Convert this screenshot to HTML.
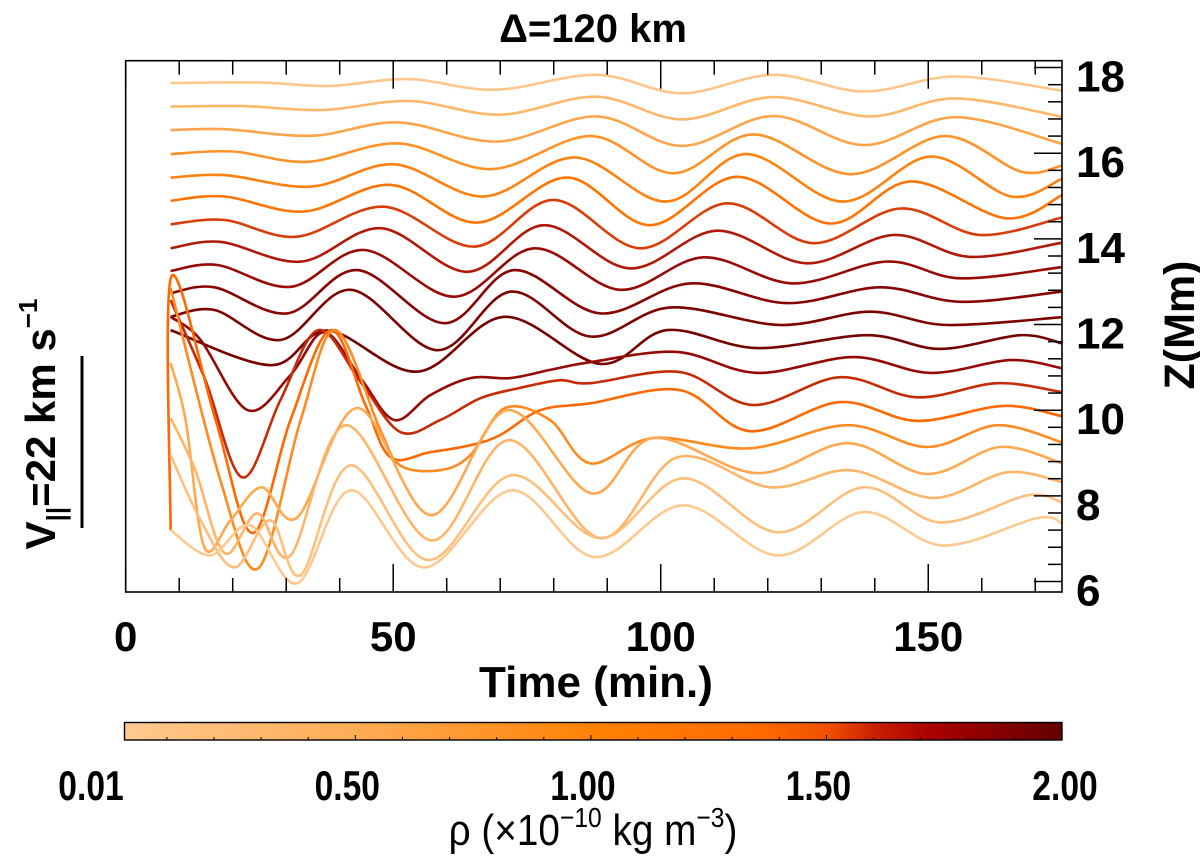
<!DOCTYPE html>
<html>
<head>
<meta charset="utf-8">
<style>
  html,body{margin:0;padding:0;background:#fff;}
  svg{display:block;}
  text{font-family:"Liberation Sans", sans-serif;fill:#000;}
</style>
</head>
<body>
<svg id="chart" width="1200" height="858" viewBox="0 0 1200 858" xmlns="http://www.w3.org/2000/svg">
  <text x="593" y="42" font-size="40" font-weight="bold" text-anchor="middle">Δ=120 km</text>
  <g id="curves"></g>
  <rect x="125.7" y="60.7" width="936.3" height="531.3" fill="none" stroke="#000" stroke-width="1.6"/>
  <g id="ticks"></g>
  <g id="xlabels"></g>
  <g id="ylabels"></g>
  <text x="596" y="697" font-size="44" font-weight="bold" text-anchor="middle">Time (min.)</text>
  <text transform="translate(1194,325) rotate(-90)" font-size="43" font-weight="bold" text-anchor="middle">Z(Mm)</text>
  <text transform="translate(55,424) rotate(-90)" font-size="42" font-weight="bold" text-anchor="middle">V<tspan font-size="26" dy="10">||</tspan><tspan dy="-10">=22 km s</tspan><tspan font-size="26" dy="-18">−1</tspan></text>
  <line x1="82" y1="356" x2="82" y2="528" stroke="#000" stroke-width="3"/>
  <defs>
    <linearGradient id="cmap" x1="0" y1="0" x2="1" y2="0">
      <stop offset="0" stop-color="#ffc98f"/>
      <stop offset="0.25" stop-color="#ffac55"/>
      <stop offset="0.5" stop-color="#ff8204"/>
      <stop offset="0.68" stop-color="#ff6a00"/>
      <stop offset="0.75" stop-color="#f05000"/>
      <stop offset="0.8" stop-color="#c82000"/>
      <stop offset="0.86" stop-color="#aa0000"/>
      <stop offset="1" stop-color="#620000"/>
    </linearGradient>
  </defs>
  <rect x="124.5" y="722.5" width="937.5" height="17.5" fill="url(#cmap)" stroke="#000" stroke-width="1.4"/>
  <g id="cbticks"></g>
  <g id="cblabels"></g>
  <text x="593" y="845" font-size="44" text-anchor="middle" transform="translate(593,0) scale(0.88,1) translate(-593,0)">ρ (×10<tspan font-size="28" dy="-18">−10</tspan><tspan dy="18"> kg m</tspan><tspan font-size="28" dy="-18">−3</tspan><tspan dy="18">)</tspan></text>
</svg>
<script>
// ---- axis data ----
const xTickMajor = [0, 50, 100, 150];
const xTickLabels = ["0", "50", "100", "150"];
const yTickMajor = [6, 8, 10, 12, 14, 16, 18];
const yTickLabels = ["6", "8", "10", "12", "14", "16", "18"];
const cbTickValues = [0.5, 1.0, 1.5];
const cbTickLabels = ["0.01", "0.50", "1.00", "1.50", "2.00"];
const cbLabelValues = [0.01, 0.5, 1.0, 1.5, 2.0];

// ---- series data: time (min) and height Z (Mm) ----
const t01 = [8.4,25,38,53,69,88,104,121,138,155,175];
const z01 = [17.64,17.65,17.57,17.73,17.48,17.83,17.40,17.83,17.44,17.79,17.46];
const t02 = [8.4,22,37,53,70,88,104,121,139,155,175];
const z02 = [17.09,17.10,17.01,17.22,16.90,17.32,16.79,17.31,16.86,17.28,16.85];
const t03 = [8.4,18.5,35,51,69.5,88,104,121,138,155,175];
const z03 = [16.54,16.56,16.41,16.72,16.27,16.86,16.17,16.87,16.19,16.84,16.22];
const t04 = [8.4,20,34,51,68.5,87,102.4,117.4,135.5,153,167.3,175];
const z04 = [15.98,16.04,15.80,16.23,15.63,16.40,15.53,16.44,15.51,16.40,15.57,15.71];
const t05 = [8.4,18.5,34.7,50.2,67,84,101,116,134,150.4,165.5,175];
const z05 = [15.43,15.49,15.22,15.74,14.99,15.90,14.87,15.98,14.87,15.92,14.99,15.40];
const t06 = [8.4,18.5,33.4,49.6,65.8,82.5,98,114.3,131.7,146.7,164.5,175];
const z06 = [14.89,14.99,14.64,15.26,14.38,15.43,14.32,15.45,14.36,15.34,14.48,15.02];
const t07 = [8.4,18.5,32,48.3,65.2,80,96.2,112.4,128.5,144.8,159.7,175];
const z07 = [14.34,14.44,14.05,14.75,13.82,14.91,13.78,14.83,13.90,14.71,14.09,14.50];
const t08 = [8.4,17.8,32.8,47.7,63.9,78.2,94.3,110.5,127.3,143.5,157.8,175];
const z08 = [13.78,13.93,13.47,14.25,13.23,14.32,13.31,14.19,13.43,14.09,13.58,13.91];
const t09 = [8.4,17.1,30.9,44.6,61.4,76.4,92.4,108,124.7,142.3,156,175];
const z09 = [13.25,13.39,12.88,13.74,12.65,13.78,12.81,13.57,12.96,13.47,13.08,13.34];
const t10 = [8.4,16.6,30.2,43.3,59.6,72.6,88.7,105.5,123.6,141,156,175];
const z10 = [12.73,12.87,12.26,13.27,12.03,13.27,12.26,12.96,12.50,12.87,12.53,12.77];
const t11 = [8.4,16.6,29,42.1,58.3,72,86.8,101.8,122.3,139.1,153.5,175];
const z11 = [12.18,12.34,11.64,12.81,11.40,12.77,11.72,12.40,11.99,12.30,11.99,12.17];
const t12 = [8.4,27.2,37.8,54.6,70.8,88.7,101.2,118,138.6,152.2,167.2,175];
const z12 = [11.87,11.05,11.86,10.90,12.18,11.08,11.87,11.45,11.75,11.43,11.75,11.56];
const t13 = [8.4,14.0,22.8,30.8,37.1,43.9,50.2,56.9,64.4,71.9,79.3,86.8,103.1,118.0,136.0,150.4,165.3,175];
const z13 = [12.18,11.64,10.00,10.82,11.82,10.75,9.77,10.35,10.75,10.75,10.94,11.12,11.36,10.87,11.24,10.87,11.17,10.98];
const t14 = [8.4,14.9,21.8,28.9,36.0,43.9,51.3,58.8,66.3,73.7,81.2,86.8,103.6,117.3,133.5,147.9,162.9,175];
const z14 = [12.57,10.70,8.43,10.23,11.87,10.66,9.49,9.77,10.28,10.52,10.70,10.63,10.89,10.12,10.77,10.30,10.63,10.42];
const t15 = [8.4,8.5,16.8,23.7,30.8,38.3,44.8,49.5,56.9,64.4,70.0,77.5,86.8,103.6,116.7,133.5,147.9,164.0,175];
const z15 = [7.20,13.11,9.77,7.13,9.77,11.87,10.12,8.90,9.02,9.18,9.42,10.00,10.16,10.47,9.51,10.19,9.75,10.10,9.86];
const t16 = [8.4,17.7,24.8,32.7,39.2,47.6,51.3,58.8,64.4,70.9,79.3,86.8,98.6,116.7,134.9,149.8,162.9,175];
const z16 = [12.85,8.36,6.31,9.77,11.87,9.53,8.71,8.60,8.95,10.05,9.77,8.76,9.35,9.11,9.65,9.14,9.65,9.25];
const t17 = [8.4,11.2,14.7,19.6,25.4,32.1,43.3,57.1,71.3,87.0,98.6,118.0,134.9,149.8,163.4,175];
const z17 = [11.10,9.77,6.80,7.43,8.20,7.50,10.05,7.55,10.00,8.06,9.35,8.53,9.23,8.51,9.14,8.76];
const t18 = [8.4,13.0,18.5,24.6,30.8,41.1,57.1,71.7,88.7,103.1,120.5,135.4,150.9,164.7,175];
const z18 = [9.82,8.60,6.66,7.59,6.61,9.65,6.96,9.30,7.01,8.90,8.20,8.60,7.95,8.55,8.32];
const t19 = [8.4,14.0,20.3,27.0,32.7,42.0,56.5,72.1,88.7,104.2,121.8,137.9,152.2,168.5,175];
const z19 = [8.95,7.43,6.33,7.43,6.15,8.71,6.50,8.48,7.01,8.41,7.15,8.20,7.38,8.01,7.85];
const t20 = [8.4,15.8,23.3,32.1,42.0,55.8,72.1,87.6,104.2,121.8,137.9,152.8,170.3,175];
const z20 = [7.20,6.61,7.31,5.96,8.13,6.33,8.13,6.57,7.78,6.61,7.62,6.84,7.48,7.36];

const seriesT = [t01,t02,t03,t04,t05,t06,t07,t08,t09,t10,t11,t12,t13,t14,t15,t16,t17,t18,t19,t20];
const seriesZ = [z01,z02,z03,z04,z05,z06,z07,z08,z09,z10,z11,z12,z13,z14,z15,z16,z17,z18,z19,z20];
const seriesColor = ["#ffc68a","#ffb76a","#ffa44a","#ff9228","#ff8210","#ff7400","#d83c08","#b01808","#980a06","#880404","#7c0202","#740000","#940a06","#c42c08","#ff6800","#ff8a20","#ffa850","#ffb468","#ffbf7c","#ffc88e"];

// ---- scales ----
const X0 = 125.7, X1 = 1062, TMAX = 175;
const Y0 = 592, Y1 = 60.7, ZMIN = 5.755, ZMAX = 18.16;
function X(t){ return X0 + t / TMAX * (X1 - X0); }
function Y(z){ return Y0 - (z - ZMIN) / (ZMAX - ZMIN) * (Y0 - Y1); }
const CB0 = 124.5, CB1 = 1062;
function CBX(v){ return CB0 + (v - 0.01) / (2.0 - 0.01) * (CB1 - CB0); }

const NS = "http://www.w3.org/2000/svg";
function mk(tag, attrs, parent){
  const el = document.createElementNS(NS, tag);
  for (const k in attrs) el.setAttribute(k, attrs[k]);
  parent.appendChild(el);
  return el;
}

function pathFrom(ts, zs){
  const p = ts.map((t,i)=>[X(t), Y(zs[i])]);
  let d = "M" + p[0][0].toFixed(1) + "," + p[0][1].toFixed(1);
  for (let i = 0; i < p.length - 1; i++){
    const p0 = p[i-1] || p[i], p1 = p[i], p2 = p[i+1], p3 = p[i+2] || p[i+1];
    const c1x = p1[0] + (p2[0]-p0[0])/6, c1y = p1[1] + (p2[1]-p0[1])/6;
    const c2x = p2[0] - (p3[0]-p1[0])/6, c2y = p2[1] - (p3[1]-p1[1])/6;
    d += " C" + c1x.toFixed(1)+","+c1y.toFixed(1)+" "+c2x.toFixed(1)+","+c2y.toFixed(1)+" "+p2[0].toFixed(1)+","+p2[1].toFixed(1);
  }
  return d;
}

// curves
const gC = document.getElementById("curves");
for (let i = 0; i < seriesT.length; i++){
  const el = mk("path", {d: pathFrom(seriesT[i], seriesZ[i]), fill:"none", stroke: seriesColor[i], "stroke-width":"2.6", "stroke-linejoin":"round"}, gC);
  
  
}

// ticks
const gT = document.getElementById("ticks");
for (let t = 0; t <= TMAX; t += 10){
  const major = xTickMajor.indexOf(t) >= 0;
  const L = major ? 28 : 14;
  const a = mk("line", {x1:X(t), x2:X(t), y1:Y0, y2:Y0-L, stroke:"#000", "stroke-width":"1.5"}, gT);
  
  
  const b = mk("line", {x1:X(t), x2:X(t), y1:Y1, y2:Y1+L, stroke:"#000", "stroke-width":"1.5"}, gT);
  
  
}
for (let k = 0; k <= 30; k++){
  const z = 6 + k*0.4;
  if (z > ZMAX) break;
  const major = (k % 5 === 0);
  const L = major ? 28 : 14;
  const a = mk("line", {x1:X1, x2:X1-L, y1:Y(z), y2:Y(z), stroke:"#000", "stroke-width":"1.5"}, gT);
  
  
}

// tick labels
const gX = document.getElementById("xlabels");
xTickMajor.forEach((t,i)=>{
  const el = mk("text", {x:X(t), y:651, "font-size":"42", "font-weight":"bold", "text-anchor":"middle"}, gX);
  el.textContent = xTickLabels[i];
  
  
});
const gY = document.getElementById("ylabels");
yTickMajor.forEach((z,i)=>{
  const el = mk("text", {x:1076, y:Y(z)+24, "font-size":"44", "font-weight":"bold", "text-anchor":"start"}, gY);
  el.textContent = yTickLabels[i];
  
  
});

// colorbar ticks & labels
const gCB = document.getElementById("cbticks");
for (let k = 1; k < 20; k++){
  const v = k*0.1;
  const major = cbTickValues.some(m => Math.abs(m - v) < 1e-6);
  const L = major ? 5 : 3;
  const el = mk("line", {x1:CBX(v), x2:CBX(v), y1:740, y2:740-L, stroke:"#000", "stroke-width":"1"}, gCB);
  
  
}
const gCBL = document.getElementById("cblabels");
cbLabelValues.forEach((v,i)=>{
  let x = CBX(v) - 8;
  if (i === 0) x = 91;
  if (i === cbLabelValues.length-1) x = 1065;
  const el = mk("text", {x:0, y:800, "font-size":"42", "font-weight":"bold", "text-anchor":"middle", transform:"translate(" + x.toFixed(1) + ",0) scale(0.8,1)"}, gCBL);
  el.textContent = cbTickLabels[i];
  
  
});
</script>
</body>
</html>
